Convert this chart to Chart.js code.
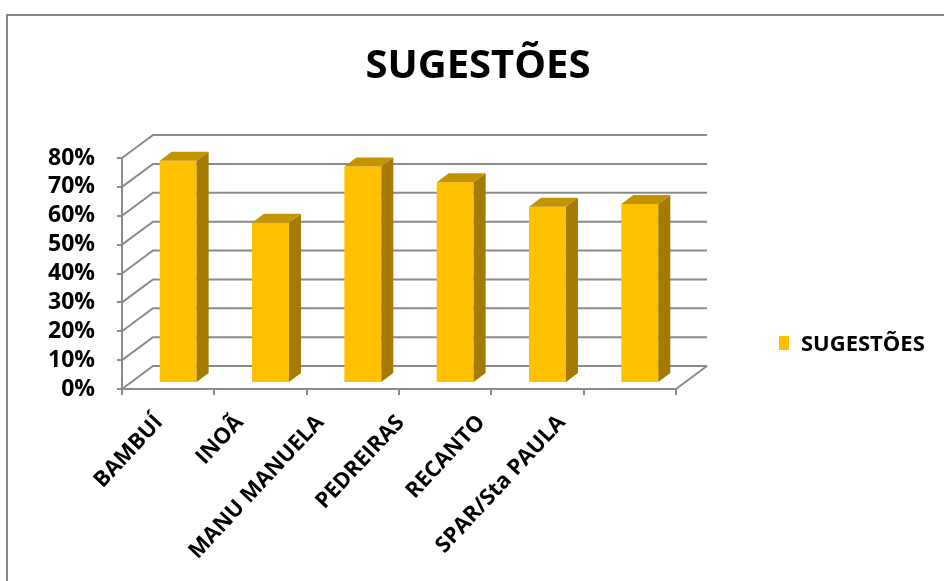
<!DOCTYPE html>
<html>
<head>
<meta charset="utf-8">
<script src="https://cdn.jsdelivr.net/npm/chart.js@4.4.1/dist/chart.umd.min.js"></script>
<style>
  body { margin: 0; background: #fff; }
  #wrap { width: 944px; height: 581px; }
</style>
</head>
<body>
<div id="wrap"><canvas id="chart1" width="944" height="581"></canvas></div>
<script>
// categorias e valores (%)
var bairros = ["BAMBUÍ", "INOÃ", "MANU MANUELA", "PEDREIRAS", "RECANTO", "SPAR/Sta PAULA"];
var sugestoes = [77, 55.5, 75, 69.5, 61, 62];
var titulo = "SUGESTÕES";
var serieNome = "SUGESTÕES";

var cinza = '#8a8a8a';
var fonte = "'Open Sans', sans-serif";

// deslocamentos do efeito 3D
var PAREDE = { dx: 31, dy: -23 };   // parede do fundo
var FRENTE = { dx: 10, dy: -6 };    // face da frente da barra
var FUNDO = { dx: 12, dy: -9 };     // profundidade da barra
var PERSP = 0.872;                  // rótulos do eixo x convergem para o canto do fundo

var efeito3d = {
    id: 'efeito3d',
    beforeDraw: function(chart) {
        var ctx = chart.ctx;
        ctx.save();
        ctx.strokeStyle = '#868686';
        ctx.lineWidth = 2;
        ctx.beginPath();
        ctx.moveTo(7, chart.height);
        ctx.lineTo(7, 15);
        ctx.lineTo(chart.width, 15);
        ctx.stroke();
        ctx.restore();
    },
    beforeDatasetsDraw: function(chart) {
        var ctx = chart.ctx;
        var a = chart.chartArea;
        var y = chart.scales.y;
        ctx.save();
        ctx.strokeStyle = cinza;
        ctx.lineWidth = 2;
        ctx.beginPath();
        y.ticks.forEach(function(t) {
            var py = y.getPixelForValue(t.value);
            ctx.moveTo(a.left, py);
            ctx.lineTo(a.left + PAREDE.dx, py + PAREDE.dy);
            ctx.lineTo(a.right + PAREDE.dx, py + PAREDE.dy);
        });
        ctx.moveTo(a.right, a.bottom);
        ctx.lineTo(a.right + PAREDE.dx, a.bottom + PAREDE.dy);
        ctx.stroke();
        ctx.restore();

        // barras desenhadas no plano da frente
        ctx.save();
        ctx.translate(FRENTE.dx, FRENTE.dy);
    },
    afterDatasetsDraw: function(chart) {
        var ctx = chart.ctx;
        ctx.restore();
        ctx.save();
        chart.getDatasetMeta(0).data.forEach(function(bar) {
            var x0 = bar.x - bar.width / 2 + FRENTE.dx;
            var x1 = bar.x + bar.width / 2 + FRENTE.dx;
            var yt = bar.y + FRENTE.dy;
            var yb = bar.base + FRENTE.dy;
            // lado
            ctx.fillStyle = '#a47b00';
            ctx.beginPath();
            ctx.moveTo(x1, yt);
            ctx.lineTo(x1 + FUNDO.dx, yt + FUNDO.dy);
            ctx.lineTo(x1 + FUNDO.dx, yb + FUNDO.dy);
            ctx.lineTo(x1, yb);
            ctx.closePath();
            ctx.fill();
            // topo
            ctx.fillStyle = '#c49400';
            ctx.beginPath();
            ctx.moveTo(x0, yt);
            ctx.lineTo(x1, yt);
            ctx.lineTo(x1 + FUNDO.dx, yt + FUNDO.dy);
            ctx.lineTo(x0 + FUNDO.dx, yt + FUNDO.dy);
            ctx.closePath();
            ctx.fill();
        });
        ctx.restore();
    },
    afterDraw: function(chart) {
        var ctx = chart.ctx;
        var a = chart.chartArea;
        var xs = chart.scales.x;
        ctx.save();
        ctx.fillStyle = '#000';

        // rótulos das categorias, inclinados
        var origem = a.left + PAREDE.dx;
        ctx.font = "bold 22px " + fonte;
        ctx.textAlign = 'right';
        ctx.textBaseline = 'middle';
        chart.data.labels.forEach(function(nome, i) {
            var px = origem + (xs.getPixelForValue(i) - origem) * PERSP;
            ctx.save();
            ctx.translate(px - 7, a.bottom + 30);
            ctx.rotate(-47 * Math.PI / 180);
            ctx.fillText(nome, 0, 0);
            ctx.restore();
        });

        ctx.textBaseline = 'alphabetic';
        ctx.textAlign = 'center';
        ctx.font = "bold 40px " + fonte;
        ctx.fillText(titulo, 478, 78);

        // legenda
        ctx.fillStyle = chart.data.datasets[0].backgroundColor;
        ctx.fillRect(779, 336, 10, 14);
        ctx.fillStyle = '#000';
        ctx.textAlign = 'left';
        ctx.font = "bold 22px " + fonte;
        ctx.fillText(serieNome, 801, 351);
        ctx.restore();
    }
};

var chart1 = document.getElementById('chart1').getContext('2d');
var myChart1 = new Chart(chart1, {
    type: 'bar',
    data: {
        labels: bairros,
        datasets: [{
            label: serieNome,
            data: sugestoes,
            backgroundColor: '#FFC000',
            borderWidth: 0,
            categoryPercentage: 1,
            barPercentage: 0.4
        }]
    },
    options: {
        responsive: false,
        animation: false,
        layout: {
            padding: { top: 158, right: 268, left: 0, bottom: 0 }
        },
        plugins: {
            legend: { display: false },
            title: { display: false },
            tooltip: { enabled: false }
        },
        scales: {
            y: {
                min: 0,
                max: 80,
                afterFit: function(scale) { scale.width = 122; },
                ticks: {
                    stepSize: 10,
                    autoSkip: false,
                    padding: 22,
                    color: '#000',
                    font: { family: fonte, size: 23, weight: 'bold' },
                    callback: function(v) { return v + '%'; }
                },
                grid: { drawOnChartArea: false, tickLength: 5, color: cinza, lineWidth: 2 },
                border: { color: cinza, width: 2 }
            },
            x: {
                afterFit: function(scale) { scale.height = 192; },
                ticks: { display: false },
                grid: { drawOnChartArea: false, tickLength: 6, color: cinza, lineWidth: 2 },
                border: { color: cinza, width: 2 }
            }
        }
    },
    plugins: [efeito3d]
});
</script>
</body>
</html>
